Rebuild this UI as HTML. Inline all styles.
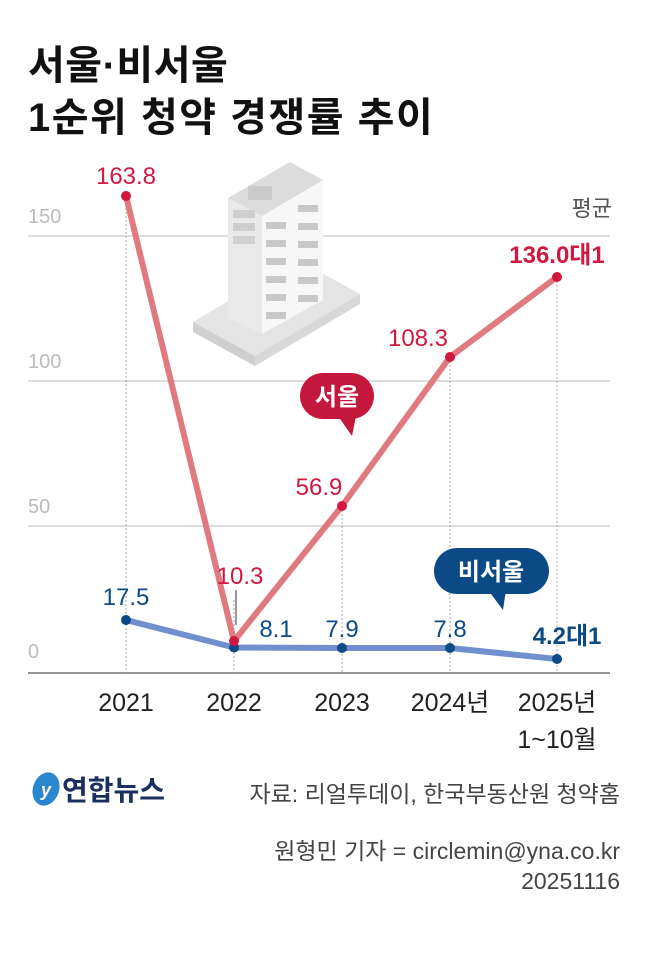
<!DOCTYPE html>
<html><head><meta charset="utf-8"><style>
body{margin:0;width:650px;height:950px;background:#fff;overflow:hidden;font-family:"Liberation Sans","Noto Sans CJK KR",sans-serif;}
</style></head><body>
<svg width="650" height="950" xmlns="http://www.w3.org/2000/svg" style="font-family:'Liberation Sans','Noto Sans CJK KR',sans-serif">
<text x="28" y="79" font-size="40" font-weight="bold" fill="#111" letter-spacing="0.5">서울·비서울</text>
<text x="28" y="131" font-size="40" font-weight="bold" fill="#111" letter-spacing="1.5">1순위 청약 경쟁률 추이</text>
<g stroke="#bbb" stroke-width="1">
<line x1="28" y1="236" x2="610" y2="236"/><line x1="28" y1="381" x2="610" y2="381"/><line x1="28" y1="526" x2="610" y2="526"/>
</g>
<line x1="28" y1="673" x2="610" y2="673" stroke="#555" stroke-width="1.2"/>
<g stroke="#aaa" stroke-width="1" stroke-dasharray="2,2">
<line x1="126" y1="196" x2="126" y2="673"/><line x1="234" y1="600" x2="234" y2="673"/><line x1="342" y1="506" x2="342" y2="673"/><line x1="450" y1="357" x2="450" y2="673"/><line x1="557" y1="277" x2="557" y2="673"/>
</g>
<g font-size="20" fill="#bbb"><text x="28" y="223">150</text><text x="28" y="368">100</text><text x="28" y="513">50</text><text x="28" y="658">0</text></g>
<!-- building -->
<polygon points="193,322 298,260 360,294 255,356" fill="#e4e4e4"/>
<polygon points="193,322 255,356 255,366 193,332" fill="#cfcfcf"/>
<polygon points="255,356 360,294 360,304 255,366" fill="#d8d8d8"/>
<polygon points="228,198 262,216 262,334 228,318" fill="#e9e9e9"/>
<polygon points="262,216 323,180 323,300 262,334" fill="#f7f7f7"/>
<polygon points="228,198 290,162 323,180 262,216" fill="#dcdcdc"/>
<rect x="248" y="186" width="24" height="14" fill="#cacaca"/>
<g fill="#cfcfcf">
<rect x="233" y="210" width="22" height="8"/><rect x="233" y="223" width="22" height="8"/><rect x="233" y="236" width="22" height="8"/>
</g>
<g fill="#c8c8c8">
<rect x="266" y="222" width="20" height="7"/><rect x="298" y="205" width="20" height="7"/>
<rect x="266" y="240" width="20" height="7"/><rect x="298" y="223" width="20" height="7"/>
<rect x="266" y="258" width="20" height="7"/><rect x="298" y="241" width="20" height="7"/>
<rect x="266" y="276" width="20" height="7"/><rect x="298" y="259" width="20" height="7"/>
<rect x="266" y="294" width="20" height="7"/><rect x="298" y="277" width="20" height="7"/>
<rect x="266" y="312" width="20" height="7"/><rect x="298" y="295" width="20" height="7"/>
</g>
<!-- series -->
<polyline points="126,620 234,647.5 342,648 450,648 557,659" fill="none" stroke="#6f8fcf" stroke-width="6" stroke-linejoin="round"/>
<polyline points="126,196 234,641 342,506 450,357 557,277" fill="none" stroke="#e07a7e" stroke-width="6" stroke-linejoin="round"/>
<g fill="#0b4a86"><circle cx="126" cy="620" r="5"/><circle cx="234" cy="647.5" r="5"/><circle cx="342" cy="648" r="5"/><circle cx="450" cy="648" r="5"/><circle cx="557" cy="659" r="5"/></g>
<g fill="#d2183e"><circle cx="126" cy="196" r="5"/><circle cx="234" cy="641" r="5"/><circle cx="342" cy="506" r="5"/><circle cx="450" cy="357" r="5"/><circle cx="557" cy="277" r="5"/></g>
<line x1="236" y1="590" x2="236" y2="625" stroke="#333" stroke-width="1"/>
<g font-size="24" fill="#d2183e" text-anchor="middle">
<text x="126" y="184">163.8</text><text x="240" y="584">10.3</text><text x="319" y="495">56.9</text><text x="418" y="346">108.3</text>
<text x="557" y="263" font-weight="bold">136.0대1</text>
</g>
<g font-size="24" fill="#0b4a86" text-anchor="middle">
<text x="126" y="605">17.5</text><text x="276" y="637">8.1</text><text x="342" y="637">7.9</text><text x="450" y="637">7.8</text>
<text x="567" y="644" font-weight="bold">4.2대1</text>
</g>
<text x="612" y="216" font-size="22" fill="#555" text-anchor="end">평균</text>
<!-- labels -->
<rect x="300" y="373" width="74" height="46" rx="23" fill="#c4173c"/>
<polygon points="338,416 356,416 352,436" fill="#c4173c"/>
<text x="337" y="405" font-size="24" font-weight="bold" fill="#fff" text-anchor="middle">서울</text>
<rect x="434" y="548" width="115" height="46" rx="23" fill="#0b4a86"/>
<polygon points="488,590 506,590 503,610" fill="#0b4a86"/>
<text x="491" y="580" font-size="24" font-weight="bold" fill="#fff" text-anchor="middle">비서울</text>
<g font-size="25" fill="#222" text-anchor="middle">
<text x="126" y="711">2021</text><text x="234" y="711">2022</text><text x="342" y="711">2023</text><text x="450" y="711">2024년</text><text x="557" y="711">2025년</text><text x="557" y="748">1~10월</text>
</g>
<ellipse cx="46" cy="789" rx="13" ry="17" fill="#2a86cf" transform="rotate(20 46 789)"/>
<text x="46" y="796" font-size="18" font-style="italic" font-weight="bold" fill="#fff" text-anchor="middle">y</text>
<text x="62" y="800" font-size="28" font-weight="bold" fill="#1b2f5e">연합뉴스</text>
<g font-size="23" fill="#444" text-anchor="end">
<text x="620" y="802">자료: 리얼투데이, 한국부동산원 청약홈</text>
<text x="620" y="859">원형민 기자 = circlemin@yna.co.kr</text>
<text x="620" y="889">20251116</text>
</g>
</svg>
</body></html>
